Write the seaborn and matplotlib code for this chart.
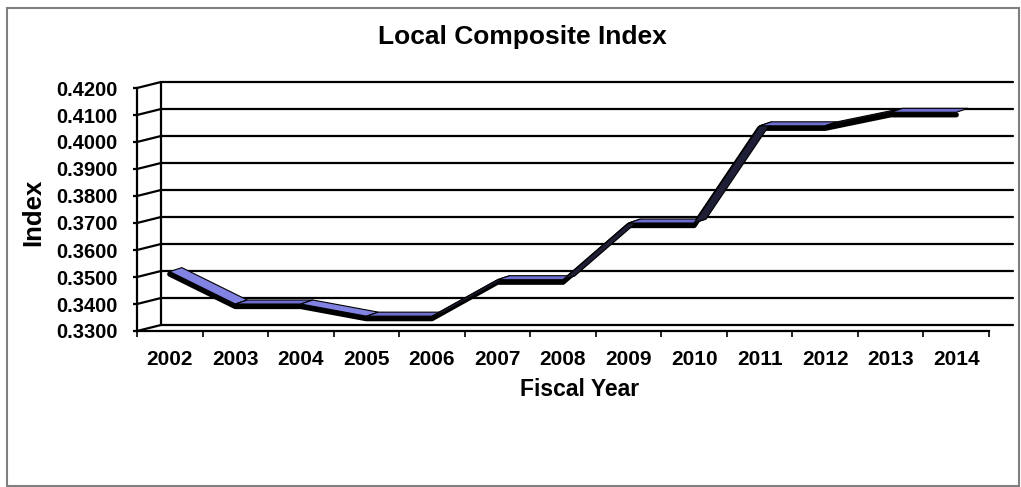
import numpy as np
import pandas as pd
import matplotlib
matplotlib.use("Agg")
import matplotlib.pyplot as plt
import seaborn as sns
from matplotlib.transforms import ScaledTranslation, IdentityTransform
from matplotlib.patches import Polygon, Rectangle
from matplotlib.lines import Line2D

# Local Composite Index by fiscal year
years = ["2002", "2003", "2004", "2005", "2006", "2007", "2008",
         "2009", "2010", "2011", "2012", "2013", "2014"]
index_values = [0.3520, 0.3400, 0.3400, 0.3355, 0.3355, 0.3490, 0.3490,
                0.3700, 0.3700, 0.4060, 0.4060, 0.4110, 0.4110]
y_ticks = [0.33, 0.34, 0.35, 0.36, 0.37, 0.38, 0.39, 0.40, 0.41, 0.42]

sns.set_theme(style="white")
plt.rcParams["font.family"] = ["Liberation Sans", "DejaVu Sans"]
plt.rcParams["font.weight"] = "bold"
for key in ["text.color", "axes.labelcolor", "xtick.color", "ytick.color"]:
    plt.rcParams[key] = "black"

W, H, DPI = 1021, 487, 100
fig = plt.figure(figsize=(W / DPI, H / DPI), dpi=DPI)
fig.patch.set_facecolor("white")

# front plane of the pseudo-3D plot area
x0, x1, yt, yb = 137, 989, 88, 331
ax = fig.add_axes([x0 / W, (H - yb) / H, (x1 - x0) / W, (yb - yt) / H])
ax.set_facecolor("none")
ax.set_xlim(0, len(years))
ax.set_ylim(y_ticks[0], y_ticks[-1])

depth = (24, 6)       # back wall offset in pixels
ribbon = (12, 4)      # ribbon depth in pixels

def px(x, y):
    return ax.transData.transform((x, y))

ident = IdentityTransform()
grid_kw = dict(color="black", lw=1.6, transform=ident, zorder=1)

# back-wall gridlines, left wall edge and floor edge
for yv in y_ticks:
    a = px(0, yv) + depth
    b = px(len(years), yv) + depth
    fig.add_artist(Line2D([a[0], b[0]], [a[1], b[1]], **grid_kw))
    f = px(0, yv)
    fig.add_artist(Line2D([f[0], a[0]], [f[1], a[1]], **grid_kw))
bl = px(0, y_ticks[0]) + depth
tl = px(0, y_ticks[-1]) + depth
fig.add_artist(Line2D([bl[0], tl[0]], [bl[1], tl[1]], **grid_kw))

# front axes lines
for side in ["top", "right"]:
    ax.spines[side].set_visible(False)
for side in ["left", "bottom"]:
    ax.spines[side].set_color("black")
    ax.spines[side].set_linewidth(1.6)

pos = np.arange(len(years)) + 0.5
df = pd.DataFrame({"pos": pos, "value": index_values})

# ribbon top face, segment by segment
pts = np.array([px(p, v) for p, v in zip(pos, index_values)])
for i in range(len(pts) - 1):
    p, q = pts[i], pts[i + 1]
    slope = q[1] - p[1]
    if slope < -0.5:
        face = "#8282e2"
    elif slope > 0.5:
        face = "#1e1e36"
    else:
        face = "#6e6ed0"
    quad = [p, q, q + ribbon, p + ribbon]
    fig.add_artist(Polygon(quad, closed=True, facecolor=face,
                           edgecolor="black", lw=0.8, transform=ident,
                           zorder=3))

# ribbon front face
sns.lineplot(data=df, x="pos", y="value", color="black", linewidth=3.8,
             ax=ax, zorder=4, legend=False)
line = ax.lines[-1]
line.set_transform(ax.transData + ScaledTranslation(0, -2.5 / DPI, fig.dpi_scale_trans))
line.set_solid_joinstyle("round")

# ticks and labels
ax.set_yticks(y_ticks)
ax.set_yticklabels([f"{v:.4f}" for v in y_ticks], fontsize=14.5, fontweight="bold")
ax.set_xticks(pos)
ax.set_xticklabels(years, fontsize=15, fontweight="bold")
ax.set_xticks(np.arange(len(years) + 1), minor=True)
ax.tick_params(axis="y", which="major", direction="out", length=3, width=1.6,
               color="black", pad=11, left=True)
ax.tick_params(axis="x", which="major", length=0, pad=13.5, bottom=True)
ax.tick_params(axis="x", which="minor", direction="out", length=4.5, width=1.2,
               color="black", bottom=True)
ax.set_xlabel("")
ax.set_ylabel("")
ax.grid(False)

fig.text(522 / W, 1 - 37 / H, "Local Composite Index", ha="center", va="center",
         fontsize=19, fontweight="bold")
fig.text(33 / W, 1 - 212 / H, "Index", ha="center", va="center", rotation=90,
         fontsize=18.5, fontweight="bold")
fig.text(580 / W, 1 - 389 / H, "Fiscal Year", ha="center", va="center",
         fontsize=16.5, fontweight="bold")

# chart area border
fig.add_artist(Rectangle((7 / W, 1 - 486 / H), (1019 - 7) / W, (486 - 8) / H,
                         transform=fig.transFigure, fill=False,
                         edgecolor="#7f7f7f", lw=1.5))

fig.savefig("out.png", dpi=DPI)
